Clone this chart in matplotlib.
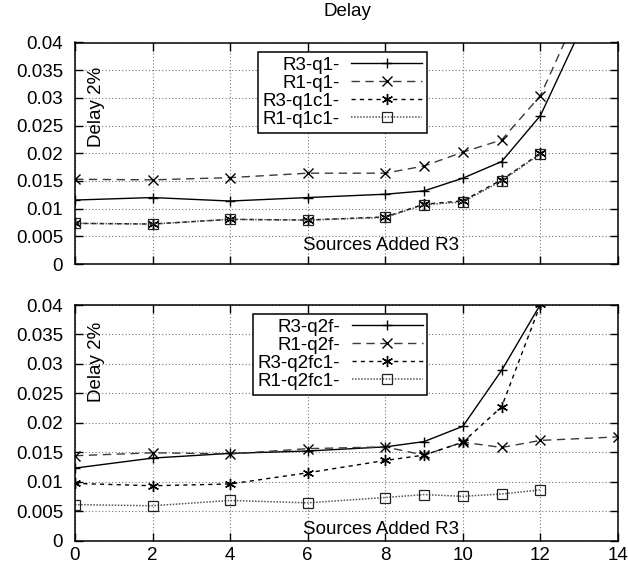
import matplotlib
matplotlib.use("Agg")
import matplotlib.pyplot as plt
from matplotlib.ticker import MultipleLocator, FuncFormatter

plt.rcParams['font.family'] = ['Liberation Sans', 'DejaVu Sans']

# ---------------- data ----------------
x_top = [0, 2, 4, 6, 8, 9, 10, 11, 12, 13]
r3_q1 = [0.01155, 0.0120, 0.01137, 0.0120, 0.0126, 0.0132, 0.0155, 0.0185, 0.0268, 0.0418]
r1_q1 = [0.0153, 0.0152, 0.0156, 0.0164, 0.0164, 0.0177, 0.0202, 0.0224, 0.0304, 0.0459]
x_top_c = [0, 2, 4, 6, 8, 9, 10, 11, 12]
r3_q1c1 = [0.00734, 0.00722, 0.00806, 0.00794, 0.0085, 0.0108, 0.0114, 0.0152, 0.0200]
r1_q1c1 = [0.00734, 0.00722, 0.00806, 0.00794, 0.0084, 0.0107, 0.0112, 0.0150, 0.0199]

x_bot = [0, 2, 4, 6, 8, 9, 10, 11, 12]
r3_q2f = [0.0123, 0.0140, 0.0148, 0.0152, 0.0159, 0.0168, 0.0194, 0.0289, 0.0401]
x_bot_r1 = [0, 2, 4, 6, 8, 9, 10, 11, 12, 14]
r1_q2f = [0.0144, 0.0149, 0.0147, 0.0156, 0.0159, 0.0145, 0.0167, 0.0158, 0.0170, 0.0176]
r3_q2fc1 = [0.0097, 0.0093, 0.0096, 0.0115, 0.0136, 0.0145, 0.0167, 0.0227, 0.0401]
r1_q2fc1 = [0.0061, 0.0059, 0.0068, 0.0064, 0.0073, 0.0078, 0.0075, 0.0079, 0.0086]

labels_top = ['R3-q1-', 'R1-q1-', 'R3-q1c1-', 'R1-q1c1-']
labels_bot = ['R3-q2f-', 'R1-q2f-', 'R3-q2fc1-', 'R1-q2fc1-']
x_ticks = [0, 2, 4, 6, 8, 10, 12, 14]

FS = 13.5

fig = plt.figure(figsize=(6.28, 5.71), dpi=100)
W, H = 628.0, 571.0
ax1 = fig.add_axes([75 / W, 1 - 264 / H, 543 / W, 221.5 / H])
ax2 = fig.add_axes([75 / W, 1 - 540.5 / H, 543 / W, 235.5 / H])

styles = [
    dict(color='black', linestyle='-', marker='+', lw=1.0, ms=7, mew=1.0),
    dict(color='#3a3a3a', linestyle=(0, (6, 4)), marker='x', lw=1.0, ms=6.5, mew=1.0, mec='black'),
    dict(color='black', linestyle=(0, (3, 3)), marker=(6, 2, 0), lw=1.0, ms=8, mew=1.0),
    dict(color='#555555', linestyle=(0, (1, 1)), marker='s', lw=1.1, ms=6.5, mew=0.9, mfc='none', mec='#222222'),
]


def style_axes(ax):
    ax.set_xlim(0, 14)
    ax.set_ylim(0, 0.04)
    ax.set_xticks(x_ticks)
    ax.yaxis.set_major_locator(MultipleLocator(0.005))
    ax.yaxis.set_major_formatter(FuncFormatter(lambda v, p: ('%g' % round(v, 4))))
    ax.grid(True, color='#777777', linestyle=(0, (1, 2)), linewidth=0.8)
    ax.tick_params(direction='in', length=6, width=1.0, top=True, right=True,
                   labelsize=FS, colors='black')
    ax.tick_params(axis='y', pad=8.5)
    ax.tick_params(axis='x', pad=5)
    for s in ax.spines.values():
        s.set_linewidth(1.1)


def legend(ax, lines, labels, anchor):
    lg = ax.legend(lines, labels, loc='upper left', bbox_to_anchor=anchor,
                   borderaxespad=0, markerfirst=False, fontsize=FS,
                   handlelength=3.8, handletextpad=0.6, labelspacing=0.05,
                   borderpad=0.25, fancybox=False, framealpha=1,
                   edgecolor='black')
    lg.get_frame().set_linewidth(1.1)
    return lg


# top panel
l1, = ax1.plot(x_top, r3_q1, **styles[0])
l2, = ax1.plot(x_top, r1_q1, **styles[1])
l3, = ax1.plot(x_top_c, r3_q1c1, **styles[2])
l4, = ax1.plot(x_top_c, r1_q1c1, **styles[3])
style_axes(ax1)
legend(ax1, [l1, l2, l3, l4], labels_top, (0.337, 0.957))
ax1.text(0.039, 0.71, 'Delay 2%', rotation=90, transform=ax1.transAxes,
         ha='center', va='center', fontsize=FS)
ax1.text(7.9, 0.0034, 'Sources Added R3', ha='center', va='center', fontsize=FS)

# bottom panel
m1, = ax2.plot(x_bot, r3_q2f, **styles[0])
m2, = ax2.plot(x_bot_r1, r1_q2f, **styles[1])
m3, = ax2.plot(x_bot, r3_q2fc1, **styles[2])
m4, = ax2.plot(x_bot, r1_q2fc1, **styles[3])
style_axes(ax2)
legend(ax2, [m1, m2, m3, m4], labels_bot, (0.328, 0.962))
ax2.text(0.039, 0.76, 'Delay 2%', rotation=90, transform=ax2.transAxes,
         ha='center', va='center', fontsize=FS)
ax2.text(7.9, 0.0018, 'Sources Added R3', ha='center', va='center', fontsize=FS)

ax1.tick_params(axis='x', labelbottom=False)

fig.text(347 / W, 1 - 12 / H, 'Delay', ha='center', va='center', fontsize=FS)

fig.savefig('out.png', dpi=100)
